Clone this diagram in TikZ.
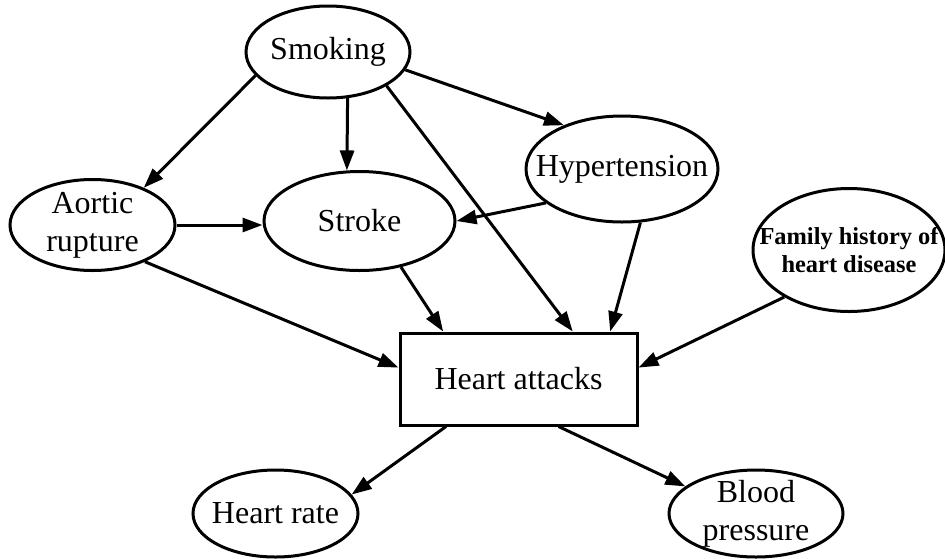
\documentclass[tikz,border=0pt]{standalone}
\usepackage{fontspec}
\setmainfont{Liberation Serif}
\usetikzlibrary{shapes.geometric,arrows.meta,calc}

\begin{document}
\begin{tikzpicture}[x=1pt,y=-1pt,line width=3pt,
  ell/.style={draw,ellipse,inner sep=-40pt,align=center,font=\fontsize{32}{38}\selectfont},
  box/.style={draw,rectangle,minimum width=237pt,minimum height=92pt,font=\fontsize{32}{38}\selectfont},
  arr/.style={-{Triangle[length=20pt,width=14pt]}}]
\useasboundingbox (0,0) rectangle (945,558);
\node[ell,minimum width=164pt,minimum height=92pt] (smoke) at (328,52) {Smoking};
\node[ell,minimum width=192pt,minimum height=106pt] (hyp) at (622,169) {Hypertension};
\node[ell,minimum width=165pt,minimum height=91pt] (aort) at (92.5,225) {Aortic\\rupture};
\node[ell,minimum width=191pt,minimum height=99pt] (stroke) at (359.5,221) {Stroke};
\node[ell,minimum width=192pt,minimum height=123pt,font=\fontsize{24.4}{28}\selectfont\bfseries] (fam) at (849,250) {Family history of\\heart disease};
\node[box] (ha) at (518.5,379) {Heart attacks};
\node[ell,minimum width=165pt,minimum height=87pt] (hr) at (275.5,513.5) {Heart rate};
\node[ell,minimum width=174pt,minimum height=87pt] (bp) at (756,513.5) {Blood\\pressure};
% causes
\draw[arr] (smoke.198) -- (aort.36);
\draw[arr] (smoke.-67) -- (stroke.104);
\draw[arr] (smoke.-13) -- (hyp.143);
\draw[arr] (smoke.-30) -- ($(ha.north west)!0.726!(ha.north east)$);
\draw[arr] (aort.east) -- (stroke.west |- aort.east);
\draw[arr] (hyp.204) -- (stroke.east);
\draw[arr] (aort.-35) -- ($(ha.north west)!0.38!(ha.south west)$);
\draw[arr] (stroke.-48) -- ($(ha.north west)!0.186!(ha.north east)$);
\draw[arr] (hyp.-71) -- ($(ha.north west)!0.882!(ha.north east)$);
\draw[arr] (fam.216) -- ($(ha.north east)!0.38!(ha.south east)$);
% effects
\draw[arr] ($(ha.south west)!0.198!(ha.south east)$) -- (hr.14);
\draw[arr] ($(ha.south west)!0.667!(ha.south east)$) -- (bp.159);
\end{tikzpicture}
\end{document}
